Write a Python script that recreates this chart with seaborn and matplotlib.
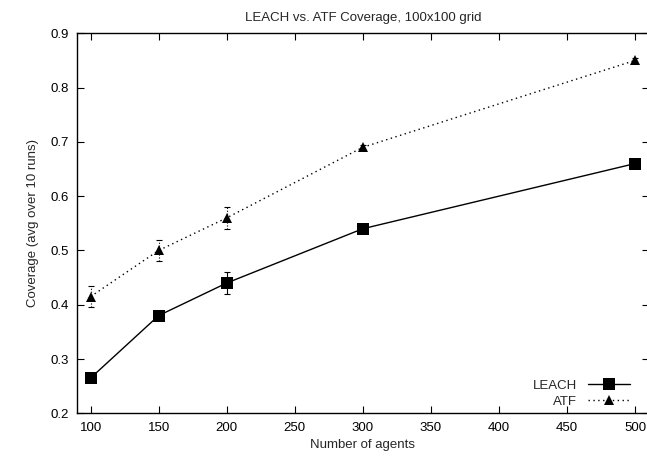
# plot.py
import pandas as pd
import seaborn as sns
import matplotlib.pyplot as plt
from matplotlib.lines import Line2D

# Data
agents = [100, 150, 200, 300, 500]
leach_cov = [0.265, 0.38, 0.44, 0.54, 0.66]
leach_err = [0.005, 0.005, 0.02, 0.005, 0.005]
atf_cov = [0.415, 0.50, 0.56, 0.69, 0.85]
atf_err = [0.02, 0.02, 0.02, 0.005, 0.005]

df = pd.DataFrame({
    'Agents': agents * 2,
    'Coverage': leach_cov + atf_cov,
    'Protocol': ['LEACH'] * len(agents) + ['ATF'] * len(agents),
})

sns.set_style("ticks")
plt.rcParams['font.family'] = ['Liberation Sans', 'DejaVu Sans']
plt.rcParams['font.size'] = 9.5

fig = plt.figure(figsize=(6.47, 4.63), dpi=100)
ax = fig.add_axes([77 / 647, 1 - 413.3 / 463, 571.6 / 647, 380 / 463])

sns.lineplot(
    data=df, x='Agents', y='Coverage', hue='Protocol', style='Protocol',
    palette={'LEACH': 'black', 'ATF': 'black'},
    markers={'LEACH': 's', 'ATF': '^'},
    dashes={'LEACH': '', 'ATF': (1, 2.5)},
    markersize=9, linewidth=1, markeredgewidth=0, ax=ax, legend=False,
)
for line, ms in zip(ax.lines, [9, 7.5]):
    line.set_markersize(ms)

ax.errorbar(agents, leach_cov, yerr=leach_err, fmt='none', ecolor='black',
            elinewidth=0.8, capsize=2, capthick=0.8)
ax.errorbar(agents, atf_cov, yerr=atf_err, fmt='none', ecolor='black',
            elinewidth=0.8, capsize=2, capthick=0.8, linestyle=':')
for coll in ax.collections[-1:]:
    coll.set_linestyle(':')

ax.set_xlim(90, 510)
ax.set_ylim(0.2, 0.9)
ax.set_xticks(range(100, 501, 50))
ax.set_yticks([0.2, 0.3, 0.4, 0.5, 0.6, 0.7, 0.8, 0.9])
ax.set_yticklabels([f'{v:.1f}' for v in ax.get_yticks()])
ax.tick_params(direction='in', length=5, width=0.8, top=True, right=True,
               labelsize=9.5, pad=6, colors='black')
for sp in ax.spines.values():
    sp.set_visible(True)
    sp.set_linewidth(1)
    sp.set_color('black')

ax.set_title('LEACH vs. ATF Coverage, 100x100 grid', fontsize=9.5, pad=9)
ax.set_xlabel('Number of agents', fontsize=9.5, labelpad=4)
ax.set_ylabel('Coverage (avg over 10 runs)', fontsize=9.5, labelpad=8)

handles = [
    Line2D([], [], color='black', lw=1, marker='s', markersize=9, markeredgewidth=0),
    Line2D([], [], color='black', lw=1, ls=(0, (1, 2.5)), marker='^', markersize=7.5, markeredgewidth=0),
]
ax.legend(handles, ['LEACH', 'ATF'], loc='lower right', frameon=False,
          markerfirst=False, handlelength=3.2, handletextpad=0.8,
          labelspacing=0.3, borderaxespad=0,
          bbox_to_anchor=(635 / 647, 1 - 413 / 463), bbox_transform=fig.transFigure)

fig.savefig('out.png', dpi=100)
